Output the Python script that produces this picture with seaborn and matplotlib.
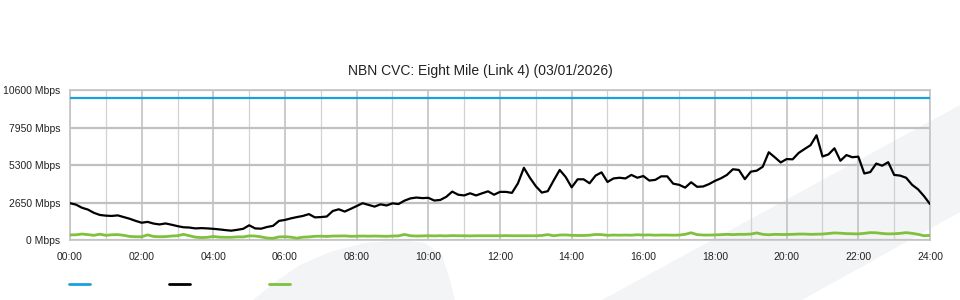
import numpy as np
import pandas as pd
import seaborn as sns
import matplotlib
matplotlib.use("Agg")
import matplotlib.pyplot as plt
from matplotlib.lines import Line2D
from matplotlib.patches import Polygon

# ---------------- data ----------------
title = "NBN CVC: Eight Mile (Link 4) (03/01/2026)"
minutes = np.arange(0, 1441, 10)          # 10-minute samples 00:00 .. 24:00
capacity_mbps = [10000] * len(minutes)
traffic_mbps = [
    2600, 2500, 2280, 2150, 1920, 1770, 1720, 1700, 1740, 1620,
    1500, 1350, 1220, 1280, 1160, 1100, 1170, 1080, 980, 900,
    880, 820, 840, 820, 790, 750, 700, 660, 720, 790,
    1040, 820, 800, 920, 1000, 1350, 1420, 1530, 1620, 1700,
    1830, 1600, 1620, 1660, 2050, 2170, 2010, 2200, 2400, 2600,
    2480, 2360, 2520, 2440, 2590, 2540, 2780, 2940, 3000, 2960,
    2980, 2790, 2830, 3050, 3420, 3200, 3150, 3300, 3150, 3300,
    3440, 3200, 3400, 3400, 3330, 4000, 5100, 4400, 3800, 3350,
    3450, 4220, 4950, 4450, 3720, 4290, 4290, 4010, 4550, 4780,
    4100, 4350, 4400, 4350, 4600, 4400, 4520, 4200, 4250, 4500,
    4500, 3980, 3900, 3700, 4080, 3760, 3780, 3950, 4180, 4360,
    4600, 5000, 4950, 4300, 4830, 4900, 5180, 6200, 5850, 5480,
    5720, 5700, 6150, 6430, 6700, 7400, 5900, 6050, 6480, 5600,
    6000, 5850, 5890, 4700, 4800, 5400, 5250, 5500, 4600, 4550,
    4400, 3900, 3580, 3100, 2540,
]
upload_mbps = [
    360, 370, 420, 380, 330, 410, 330, 370, 380, 330,
    250, 230, 230, 360, 250, 230, 240, 280, 300, 400,
    300, 200, 170, 190, 250, 200, 190, 190, 220, 220,
    290, 280, 220, 140, 120, 220, 230, 200, 130, 200,
    220, 260, 270, 250, 280, 280, 290, 260, 270, 280,
    270, 280, 270, 260, 280, 290, 390, 300, 280, 290,
    300, 290, 300, 290, 310, 300, 300, 290, 300, 300,
    300, 300, 300, 310, 300, 300, 300, 300, 300, 320,
    380, 300, 350, 360, 330, 320, 320, 340, 390, 380,
    330, 350, 340, 350, 340, 370, 350, 360, 340, 350,
    350, 340, 350, 400, 510, 380, 350, 350, 360, 380,
    400, 380, 400, 400, 420, 500, 400, 370, 400, 390,
    390, 400, 420, 420, 400, 410, 420, 460, 500, 480,
    450, 440, 430, 470, 520, 510, 460, 430, 440, 470,
    520, 470, 400, 300, 330,
]
y_ticks = [0, 2650, 5300, 7950, 10600]
x_tick_hours = list(range(0, 25, 2))
x_tick_labels = [f"{h:02d}:00" for h in x_tick_hours]

series_names = ["Capacity", "Download", "Upload"]
series_colors = ["#1a9fe3", "#000000", "#7fc03c"]

hours = minutes / 60.0
df = pd.concat([
    pd.DataFrame({"hour": hours, "mbps": capacity_mbps, "series": series_names[0]}),
    pd.DataFrame({"hour": hours, "mbps": traffic_mbps, "series": series_names[1]}),
    pd.DataFrame({"hour": hours, "mbps": upload_mbps, "series": series_names[2]}),
])

# ---------------- style ----------------
sns.set_style("white")
plt.rcParams["font.family"] = ["Liberation Sans", "DejaVu Sans"]

W, H = 960, 300
fig = plt.figure(figsize=(W / 100, H / 100), dpi=100)
fig.patch.set_facecolor("white")

# faint background watermark shapes (figure pixel coords), behind everything
wm = "#f3f4f6"
band = [(602, 300), (960, 105), (960, 212), (802, 300)]
blob = [(253, 300), (275, 282), (300, 265), (330, 252), (365, 243),
        (400, 240), (425, 243), (442, 255), (450, 280), (455, 300)]
for pts in (band, blob):
    fig.patches.append(Polygon([(x / W, 1 - y / H) for x, y in pts],
                               closed=True, transform=fig.transFigure,
                               facecolor=wm, edgecolor="none", zorder=-10))

ax = fig.add_axes([70 / W, 1 - 240 / H, 860 / W, 150 / H])
ax.set_facecolor("none")
ax.set_zorder(1)

sns.lineplot(data=df, x="hour", y="mbps", hue="series",
             hue_order=series_names, palette=series_colors,
             ax=ax, legend=False, linewidth=1.6, zorder=3)
lines = ax.get_lines()
if len(lines) >= 3:
    lines[2].set_linewidth(2.0)

ax.set_xlim(0, 24)
ax.set_ylim(0, 10600)
ax.set_xticks(x_tick_hours)
ax.set_xticklabels(x_tick_labels)
ax.set_xticks(range(0, 25), minor=True)
ax.set_yticks(y_ticks)
ax.set_yticklabels([f"{v} Mbps" for v in y_ticks])
ax.set_xlabel("")
ax.set_ylabel("")

ax.grid(False)
ax.grid(True, which="major", axis="x", color="#c2c2c2", linewidth=1.2, zorder=1)
ax.grid(True, which="minor", axis="x", color="#d2d2d2", linewidth=0.9, zorder=1)
ax.grid(True, which="major", axis="y", color="#c0c0c0", linewidth=1.6, zorder=1)

for s in ax.spines.values():
    s.set_visible(True)
    s.set_color("#c4c4c4")
    s.set_linewidth(1.2)

ax.tick_params(axis="x", which="major", length=6, width=1, color="#c4c4c4",
               labelsize=7.5, labelcolor="#222222", pad=3)
ax.tick_params(axis="x", which="minor", length=0)
ax.tick_params(axis="y", which="major", length=0, labelsize=7.5,
               labelcolor="#222222", pad=7)

fig.text(0.5, 1 - 71 / H, title, fontsize=10, color="#222222",
         ha="center", va="center")

handles = [Line2D([], [], color=c, linewidth=2) for c in series_colors]
fig.legend(handles, ["", "", ""], ncol=3, frameon=False,
           loc="center left", bbox_to_anchor=(69 / W, 1 - 285 / H),
           fontsize=7.5, handlelength=2.0, handletextpad=0.0,
           columnspacing=7.6, borderpad=0, borderaxespad=0)

fig.savefig("out.png", dpi=100, facecolor="white")
